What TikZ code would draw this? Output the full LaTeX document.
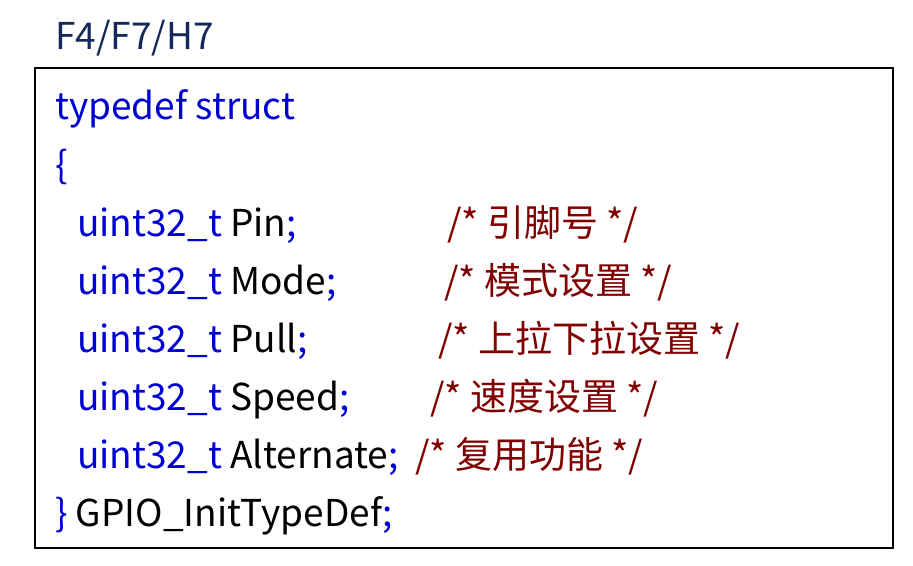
\documentclass[tikz,border=0pt]{standalone}
\usepackage{fontspec}
\setmainfont{Noto Sans CJK SC}
\definecolor{kw}{RGB}{0,0,210}
\definecolor{cm}{RGB}{128,0,0}
\definecolor{ttl}{RGB}{20,40,90}
\begin{document}
\begin{tikzpicture}[x=1pt,y=1pt,
  code/.style={anchor=base west,inner sep=0pt,font=\fontsize{37}{37}\selectfont},
  note/.style={code,text=cm}]
\useasboundingbox (0,0) rectangle (913,565);
\node[code,text=ttl] (title) at (55,515) {F4/F7/H7};
\draw[line width=1.2pt] (35,17) rectangle (893,497);
\node[code,text=kw] (l1) at (55,445) {typedef struct};
\node[code,text=kw] (l2) at (55,386) {\{};
\node[code] (l3) at (77,328) {\textcolor{kw}{uint32\_t} Pin\textcolor{kw}{;}};
\node[code] (l4) at (77,270) {\textcolor{kw}{uint32\_t} Mode\textcolor{kw}{;}};
\node[code] (l5) at (77,212) {\textcolor{kw}{uint32\_t} Pull\textcolor{kw}{;}};
\node[code] (l6) at (77,154) {\textcolor{kw}{uint32\_t} Speed\textcolor{kw}{;}};
\node[code] (l7) at (77,96) {\textcolor{kw}{uint32\_t} Alternate\textcolor{kw}{;}};
\node[code] (l8) at (55,38) {\textcolor{kw}{\}} GPIO\_InitTypeDef\textcolor{kw}{;}};
\node[note] (c3) at (447,328) {/* 引脚号 */};
\node[note] (c4) at (444,270) {/* 模式设置 */};
\node[note] (c5) at (438,212) {/* 上拉下拉设置 */};
\node[note] (c6) at (430,154) {/* 速度设置 */};
\node[note] (c7) at (415,96) {/* 复用功能 */};
\end{tikzpicture}
\end{document}
